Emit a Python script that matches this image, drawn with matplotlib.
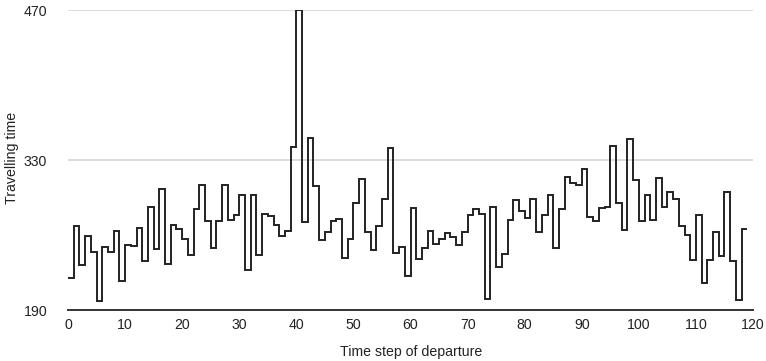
import matplotlib.pyplot as plt
import numpy as np

# travelling time per departure time step
travel_time = [
    220, 268, 232, 259, 244, 198, 249, 244, 264, 217,
    251, 250, 267, 236, 286, 247, 303, 233, 269, 266,
    256, 241, 284, 307, 273, 248, 273, 307, 274, 279,
    297, 227, 297, 241, 280, 278, 269, 259, 264, 342,
    470, 272, 351, 306, 255, 263, 273, 275, 239, 256,
    290, 312, 263, 246, 268, 294, 341, 243, 249, 222,
    285, 238, 248, 264, 252, 256, 262, 258, 251, 263,
    279, 284, 280, 200, 286, 230, 242, 274, 293, 282,
    276, 294, 263, 279, 297, 248, 284, 314, 309, 307,
    322, 277, 273, 285, 286, 343, 290, 265, 350, 311,
    273, 297, 274, 313, 286, 300, 294, 268, 260, 237,
    279, 215, 237, 263, 240, 300, 236, 199, 266,
]
x_ticks = list(range(0, 121, 10))
y_ticks = [190, 330, 470]

plt.rcParams['font.family'] = ['Liberation Sans', 'DejaVu Sans']
txt = '#222222'
fs = 10.2

fig = plt.figure(figsize=(7.66, 3.61), dpi=100)
ax = fig.add_axes([68 / 766, 1 - 310 / 361, 685 / 766, 300 / 361])

edges = np.arange(len(travel_time) + 1)
ax.stairs(travel_time, edges, baseline=None, color='#222222', linewidth=1.4)

ax.set_xlim(0, 120)
ax.set_ylim(190, 470)
ax.set_xticks(x_ticks)
ax.set_yticks(y_ticks)

# light horizontal gridlines, dark baseline
for v in y_ticks[1:]:
    ax.axhline(v, color='#d6d6d6', linewidth=1.2, zorder=0)
for s in ['top', 'right', 'left']:
    ax.spines[s].set_visible(False)
ax.spines['bottom'].set_color('#333333')
ax.spines['bottom'].set_linewidth(1.4)

ax.tick_params(axis='y', length=0, pad=15, labelsize=fs, labelcolor=txt)
ax.tick_params(axis='x', length=0, pad=6, labelsize=fs, labelcolor=txt)

fig.text(12 / 766, 1 - 158 / 361, 'Travelling time', rotation=90,
         ha='center', va='center', fontsize=fs, color=txt)
fig.text(411 / 766, 1 - 352 / 361, 'Time step of departure',
         ha='center', va='center', fontsize=fs, color=txt)

plt.savefig('out.png', dpi=100)
